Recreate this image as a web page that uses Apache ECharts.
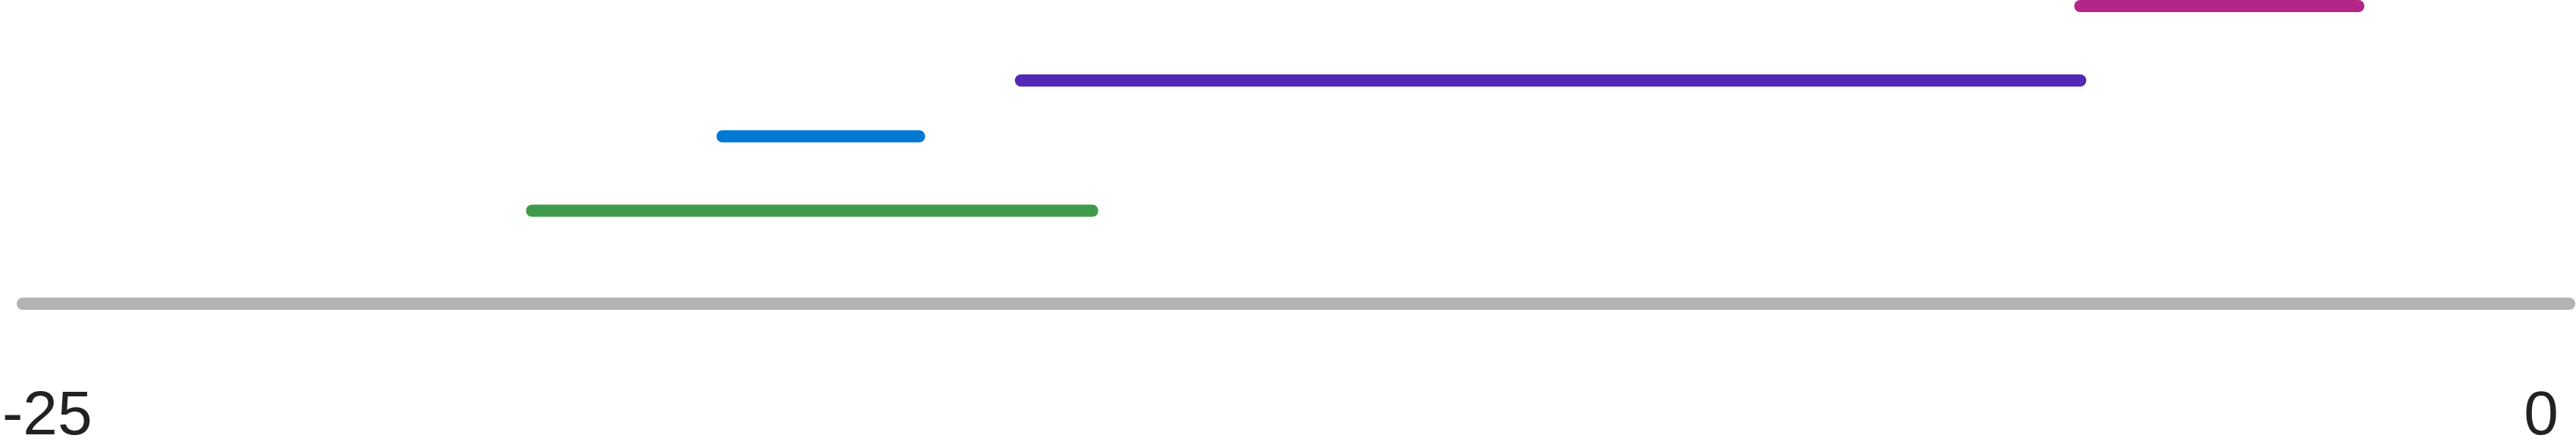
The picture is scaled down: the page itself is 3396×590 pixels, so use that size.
<!DOCTYPE html>
<html>
<head>
<meta charset="utf-8">
<script src="https://cdn.jsdelivr.net/npm/echarts@6/dist/echarts.min.js"></script>
<style>
html,body{margin:0;padding:0;background:#fff;}
#c{width:3396px;height:590px;}
</style>
</head>
<body>
<div id="c"></div>
<script>
// Span names, start/end values (x axis: -25 .. 0) and lane levels
const spanNames = ['axis', 'green', 'blue', 'purple', 'magenta'];
const spanStart = [-25, -20.0, -18.13, -15.2, -4.8];
const spanEnd = [0, -14.5, -16.2, -4.8, -2.07];
const spanLevel = [0, 1.25, 2.25, 3, 4];
const spanColors = ['#b3b3b3', '#3f9b4b', '#0078d4', '#5328b4', '#b42685'];
const tickLabels = [-25, 0];

const series = spanNames.map((n, i) => ({
  name: n,
  type: 'line',
  xAxisIndex: 0,
  yAxisIndex: 0,
  symbol: 'none',
  silent: true,
  animation: false,
  lineStyle: { width: 16, color: spanColors[i], cap: 'round' },
  data: [[spanStart[i], spanLevel[i]], [spanEnd[i], spanLevel[i]]]
}));

const chart = echarts.init(document.getElementById('c'), null, { renderer: 'canvas' });
chart.setOption({
  animation: false,
  backgroundColor: '#ffffff',
  grid: [
    { left: 30, right: 9, top: 8, bottom: 190 },
    { left: 60, right: 46, top: 0, bottom: 90 }
  ],
  xAxis: [
    { type: 'value', gridIndex: 0, min: tickLabels[0], max: tickLabels[1], show: false },
    {
      type: 'value', gridIndex: 1, min: tickLabels[0], max: tickLabels[1], interval: 25,
      axisLine: { show: false }, axisTick: { show: false }, splitLine: { show: false },
      axisLabel: {
        show: true, margin: 14, color: '#222222', fontSize: 82,
        fontFamily: 'Liberation Sans, Arial, sans-serif'
      }
    }
  ],
  yAxis: [
    { type: 'value', gridIndex: 0, min: 0, max: 4, show: false },
    { type: 'value', gridIndex: 1, min: 0, max: 1, show: false }
  ],
  series: series
});
</script>
</body>
</html>
